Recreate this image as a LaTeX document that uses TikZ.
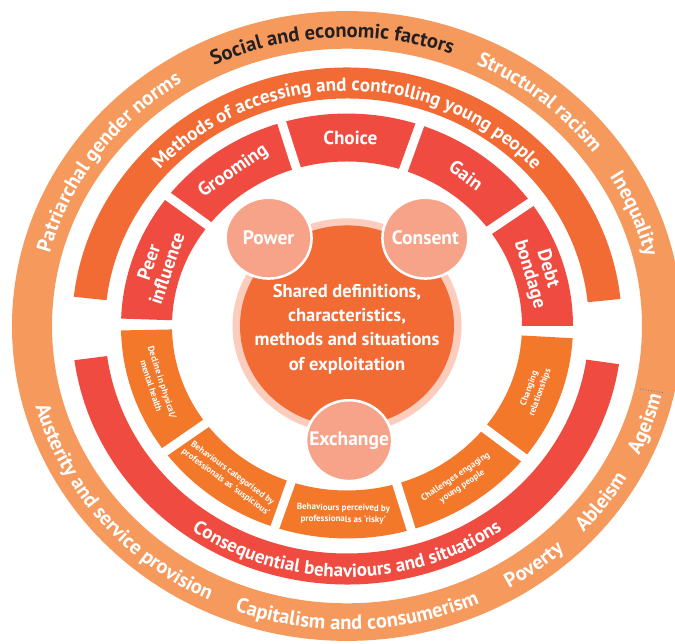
\documentclass[tikz,border=0pt]{standalone}
\usepackage{fontspec}
\setmainfont{PT Sans}
\usetikzlibrary{decorations.text}

\definecolor{outerring}{HTML}{F6995D}
\definecolor{methodring}{HTML}{F26B34}
\definecolor{redring}{HTML}{EF4B41}
\definecolor{lowerblock}{HTML}{F37829}
\definecolor{halo}{HTML}{FCCDBC}
\definecolor{bubble}{HTML}{F6A38A}
\definecolor{darktext}{HTML}{231F20}
\definecolor{dotblue}{HTML}{3F7FB5}

\newcommand{\outerfont}{\bfseries\fontsize{20.5}{20.5}\selectfont}
\newcommand{\bandfont}{\bfseries\fontsize{19}{19}\selectfont}

\begin{document}
\begin{tikzpicture}[x=1pt,y=1pt,yscale=0.94,
    blocktext/.style={text=white,font=\bfseries\fontsize{19}{19}\selectfont,align=center,inner sep=0pt},
    smalltext/.style={text=white,font=\bfseries\fontsize{9}{11.5}\selectfont,align=center,inner sep=0pt},
    bubbletext/.style={text=white,font=\bfseries\fontsize{19.5}{19.5}\selectfont,inner sep=0pt},
    centertext/.style={text=white,font=\bfseries\fontsize{18.5}{24.3}\selectfont,align=center,inner sep=0pt},
    gapline/.style={white,line width=9pt},
    ringlabel/.style={decorate,decoration={text along path,text align=center,text color=white,text={#1}}},
    darklabel/.style={decorate,decoration={text along path,text align=center,text color=darktext,text={#1}}}]

    % 画面范围
    \clip (-347,-338.3) rectangle (328,346.8);

    % 最外环
    \fill[outerring,even odd rule] (0,0) circle (335) (0,0) circle (295);
    \path[ringlabel={|\outerfont|Patriarchal gender norms}] (205:307) arc[start angle=205,end angle=85,radius=307];
    \path[darklabel={|\outerfont|Social and economic factors}] (153:307) arc[start angle=153,end angle=33,radius=307];
    \path[ringlabel={|\outerfont|Structural racism}] (100:307) arc[start angle=100,end angle=0,radius=307];
    \path[ringlabel={|\outerfont|Inequality}] (62:307) arc[start angle=62,end angle=-18,radius=307];
    \path[ringlabel={|\outerfont|Ageism}] (-49:323) arc[start angle=-49,end angle=11,radius=323];
    \path[ringlabel={|\outerfont|Ableism}] (-66:323) arc[start angle=-66,end angle=-6,radius=323];
    \path[ringlabel={|\outerfont|Poverty}] (-83.4:323) arc[start angle=-83.4,end angle=-23.4,radius=323];
    \path[ringlabel={|\outerfont|Capitalism and consumerism}] (222:323) arc[start angle=222,end angle=322,radius=323];
    \path[ringlabel={|\outerfont|Austerity and service provision}] (159:323) arc[start angle=159,end angle=279,radius=323];

    % 第二环：上半和下半
    \fill[methodring] (6:242) arc[start angle=6,end angle=173.5,radius=242] -- (173.5:275) arc[start angle=173.5,end angle=6,radius=275] -- cycle;
    \path[ringlabel={|\bandfont|Methods of accessing and controlling young people}] (160:250) arc[start angle=160,end angle=20,radius=250];
    \fill[redring] (187.6:242) arc[start angle=187.6,end angle=351.5,radius=242] -- (351.5:275) arc[start angle=351.5,end angle=187.6,radius=275] -- cycle;
    \path[ringlabel={|\bandfont|Consequential behaviours and situations}] (200:267) arc[start angle=200,end angle=340,radius=267];

    % 内圈色块
    \fill[redring] (0:175) arc[start angle=0,end angle=178,radius=175] -- (178:226) arc[start angle=178,end angle=0,radius=226] -- cycle;
    \fill[lowerblock] (181.2:175) arc[start angle=181.2,end angle=356.7,radius=175] -- (356.7:226) arc[start angle=356.7,end angle=181.2,radius=226] -- cycle;
    \draw[gapline] (35.6:168) -- (35.6:233);
    \draw[gapline] (71.2:168) -- (71.2:233);
    \draw[gapline] (106.8:168) -- (106.8:233);
    \draw[gapline] (142.4:168) -- (142.4:233);
    \draw[gapline] (216.3:168) -- (216.3:233);
    \draw[gapline] (251.4:168) -- (251.4:233);
    \draw[gapline] (286.5:168) -- (286.5:233);
    \draw[gapline] (321.6:168) -- (321.6:233);

    \node[blocktext,rotate=-73.2] (debt) at (16.8:200) {Debt\\bondage};
    \node[blocktext,rotate=-36.6] (gain) at (53.4:200) {Gain};
    \node[blocktext,rotate=-1] (choice) at (89:200) {Choice};
    \node[blocktext,rotate=34.6] (grooming) at (124.6:200) {Grooming};
    \node[blocktext,rotate=71.2] (peer) at (161.2:200) {Peer\\influence};

    \node[smalltext,rotate=-72] (decline) at (198:200) {Decline in physical/\\mental health};
    \node[smalltext,rotate=-36.15] (suspicious) at (233.85:200) {Behaviours categorised by\\professionals as `suspicious'};
    \node[smalltext,rotate=-1.05] (risky) at (268.95:200) {Behaviours perceived by\\professionals as `risky'};
    \node[smalltext,rotate=34.05] (challenges) at (304.05:200) {Challenges engaging\\young people};
    \node[smalltext,rotate=69.9] (changing) at (339.9:200) {Changing\\relationships};

    % 中心圆
    \fill[halo] (0,0) circle (114.5);
    \fill[methodring] (0,0) circle (107);
    \node[centertext] (shared) at (0,-3) {Shared definitions,\\characteristics,\\methods and situations\\of exploitation};

    % 三个小圆
    \coordinate (power) at (130:122);
    \coordinate (consent) at (50:122);
    \coordinate (exchange) at (271:122);
    \filldraw[fill=bubble,draw=white,line width=2.5pt] (power) circle (43);
    \filldraw[fill=bubble,draw=white,line width=2.5pt] (consent) circle (43);
    \filldraw[fill=bubble,draw=white,line width=2.5pt] (exchange) circle (43);
    \node[bubbletext] (powertext) at (power) {Power};
    \node[bubbletext] (consenttext) at (consent) {Consent};
    \node[bubbletext] (exchangetext) at (exchange) {Exchange};

    % 右侧小虚线
    \coordinate (dotA) at (293,-67);
    \coordinate (dotB) at (318,-71.3);
    \draw[dotblue,dotted,line width=0.8pt] (dotA) -- (dotB);
\end{tikzpicture}
\end{document}
